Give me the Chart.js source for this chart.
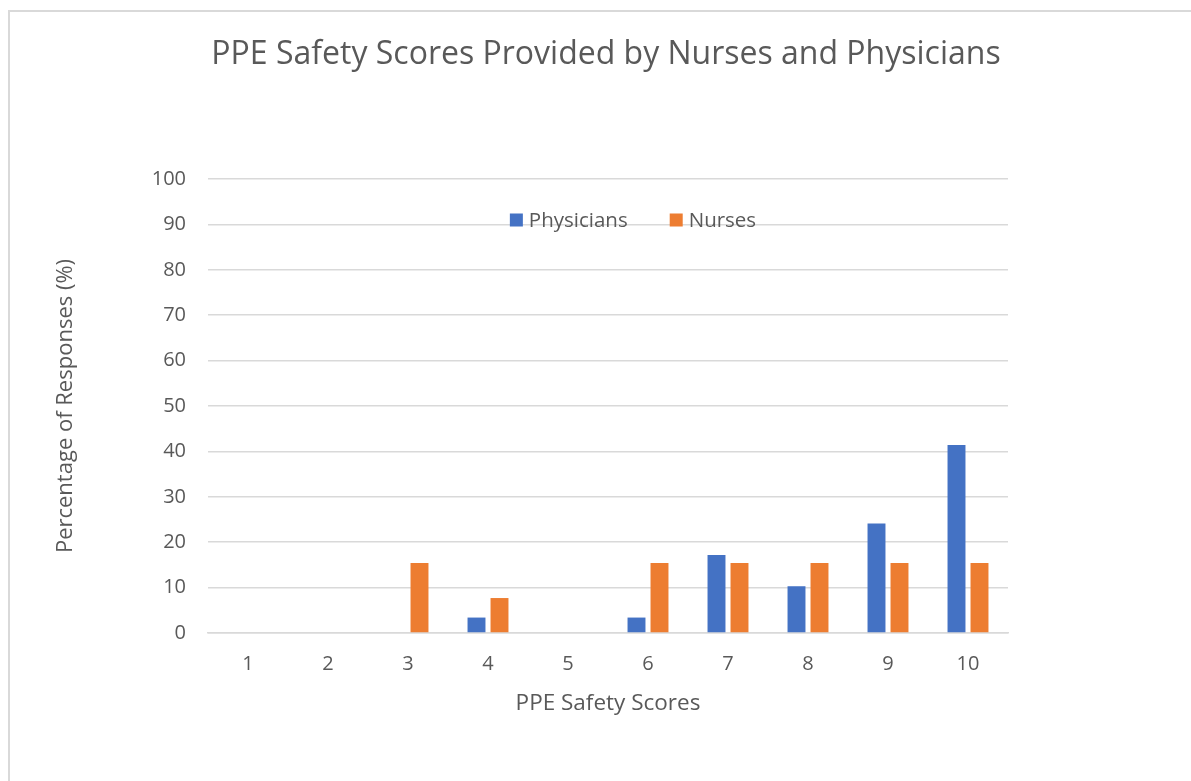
<!DOCTYPE html>
<html>
<head>
<meta charset="utf-8">
<script src="https://cdn.jsdelivr.net/npm/chart.js@4.4.0/dist/chart.umd.min.js"></script>
<style>
    html, body { margin: 0; padding: 0; background: #fff; overflow: hidden; }
    #frame { position: absolute; left: 8px; top: 10px; width: 1200px; height: 800px;
             border-left: 2px solid #d9d9d9; border-top: 2px solid #d9d9d9; }
    #wrap { position: absolute; left: 0; top: 0; width: 1191px; height: 781px; }
</style>
</head>
<body>
<div id="frame"></div>
<div id="wrap"><canvas id="ppeScoreChart" width="1191" height="781"></canvas></div>
<script>
const scores = ['1', '2', '3', '4', '5', '6', '7', '8', '9', '10'];
const physicians = [0, 0, 0, 3.4, 0, 3.4, 17.2, 10.3, 24.1, 41.4];
const nurses = [0, 0, 15.4, 7.7, 0, 15.4, 15.4, 15.4, 15.4, 15.4];
const yTicks = [0, 10, 20, 30, 40, 50, 60, 70, 80, 90, 100];
const chartTitle = 'PPE Safety Scores Provided by Nurses and Physicians';

const textColor = '#595959';
const fontFamily = "'Open Sans', 'Noto Sans', sans-serif";

// title centred on the whole picture and legend inside the plot area, like the original
const titleAndLegend = {
    id: 'titleAndLegend',
    afterDraw(chart) {
        const ctx = chart.ctx;
        ctx.save();
        ctx.fillStyle = textColor;
        ctx.textAlign = 'center';
        ctx.textBaseline = 'middle';
        ctx.font = '32px ' + fontFamily;
        ctx.fillText(chartTitle, 606, 55);

        const items = chart.data.datasets.map(ds => ({ label: ds.label, color: ds.backgroundColor }));
        const y = chart.chartArea.top + 41;
        const box = 13;
        const gap = 6;
        const spacing = 42;
        ctx.textAlign = 'left';
        ctx.font = '20.5px ' + fontFamily;
        const widths = items.map(it => box + gap + ctx.measureText(it.label).width);
        const total = widths.reduce((a, b) => a + b, 0) + spacing * (items.length - 1);
        let x = (chart.chartArea.left + chart.chartArea.right) / 2 + 25 - total / 2;
        items.forEach((it, i) => {
            ctx.fillStyle = it.color;
            ctx.fillRect(x, y - box / 2, box, box);
            ctx.fillStyle = textColor;
            ctx.fillText(it.label, x + box + gap, y + 1);
            x += widths[i] + spacing;
        });
        ctx.restore();
    }
};

const ctx = document.getElementById('ppeScoreChart').getContext('2d');
new Chart(ctx, {
    type: 'bar',
    data: {
        labels: scores,
        datasets: [{
            label: 'Physicians',
            data: physicians,
            backgroundColor: '#4472C4',
            barPercentage: 0.78,
            categoryPercentage: 0.575
        }, {
            label: 'Nurses',
            data: nurses,
            backgroundColor: '#ED7D31',
            barPercentage: 0.78,
            categoryPercentage: 0.575
        }]
    },
    options: {
        responsive: false,
        animation: false,
        layout: {
            padding: { left: 0, right: 183, top: 179, bottom: 0 }
        },
        plugins: {
            legend: { display: false },
            tooltip: { enabled: false },
            title: { display: false }
        },
        scales: {
            x: {
                grid: { display: false, drawTicks: false },
                border: { display: true, color: '#d9d9d9', width: 1.5 },
                ticks: {
                    color: textColor,
                    font: { family: fontFamily, size: 20 },
                    padding: 19
                },
                title: {
                    display: true,
                    text: 'PPE Safety Scores',
                    color: textColor,
                    font: { family: fontFamily, size: 22.5 },
                    padding: { top: 0, bottom: 64 }
                },
                afterFit(scale) { scale.height = 148; }
            },
            y: {
                min: 0,
                max: 100,
                afterBuildTicks(scale) { scale.ticks = yTicks.map(v => ({ value: v })); },
                grid: { color: '#d9d9d9', lineWidth: 1.5, drawTicks: false },
                border: { display: false },
                ticks: {
                    color: textColor,
                    font: { family: fontFamily, size: 20 },
                    padding: 22
                },
                title: {
                    display: true,
                    text: 'Percentage of Responses (%)',
                    color: textColor,
                    font: { family: fontFamily, size: 22 },
                    padding: { top: 53, bottom: 0 }
                },
                afterFit(scale) { scale.width = 208; }
            }
        }
    },
    plugins: [titleAndLegend]
});
</script>
</body>
</html>
